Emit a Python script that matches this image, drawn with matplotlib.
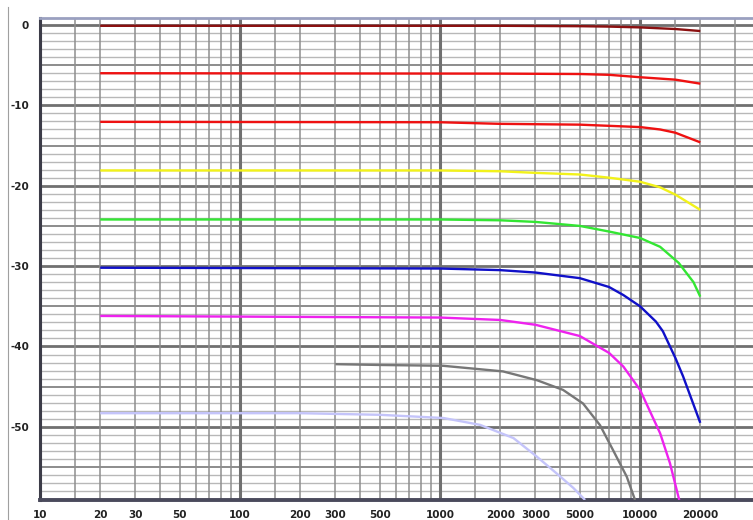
import matplotlib.pyplot as plt
from matplotlib.lines import Line2D

# frequency response readings (Hz, dB) for each attenuation step
f_0 = [20, 2000, 5000, 7000, 10000, 15000, 20000]
db_0 = [-0.1, -0.1, -0.15, -0.2, -0.3, -0.5, -0.75]

f_6 = [20, 2000, 5000, 7000, 10000, 15000, 20000]
db_6 = [-6.0, -6.05, -6.1, -6.2, -6.5, -6.8, -7.3]

f_12 = [20, 1000, 2000, 5000, 10000, 12600, 15000, 20000]
db_12 = [-12.05, -12.1, -12.3, -12.4, -12.7, -13.0, -13.4, -14.6]

f_18 = [20, 1000, 2000, 3000, 5000, 7000, 10000, 12600, 15000, 20000]
db_18 = [-18.1, -18.1, -18.2, -18.4, -18.6, -19.0, -19.5, -20.2, -21.1, -23.0]

f_24 = [20, 1000, 2000, 3000, 5000, 7000, 10000, 12600, 15600, 18500, 20000]
db_24 = [-24.2, -24.2, -24.3, -24.5, -25.0, -25.7, -26.5, -27.6, -29.6, -32.0, -33.8]

f_30 = [20, 1000, 2000, 3000, 5000, 7000, 8250, 10000, 12000, 13000, 15000, 16400, 20000]
db_30 = [-30.2, -30.3, -30.5, -30.8, -31.5, -32.6, -33.6, -35.0, -36.9, -38.1, -41.4, -43.7, -49.5]

f_36 = [20, 1000, 2000, 3000, 5000, 7000, 8250, 10000, 12600, 14100, 15700]
db_36 = [-36.2, -36.4, -36.7, -37.3, -38.7, -40.8, -42.5, -45.4, -50.8, -54.5, -59.1]

f_42 = [300, 500, 1035, 2065, 3055, 4120, 5190, 6310, 7330, 8580, 9440]
db_42 = [-42.2, -42.3, -42.4, -43.1, -44.2, -45.4, -47.1, -49.8, -52.9, -56.2, -59.1]

f_48 = [20, 200, 500, 1040, 1585, 2330, 3045, 3830, 4640, 5310]
db_48 = [-48.3, -48.3, -48.5, -48.9, -49.75, -51.4, -53.7, -55.8, -57.6, -59.1]

x_ticks = [10, 20, 30, 50, 100, 200, 300, 500, 1000, 2000, 3000, 5000, 10000, 20000]
y_ticks = [0, -10, -20, -30, -40, -50]

curves = [
    (f_0, db_0, "#8b1010"),
    (f_6, db_6, "#ee1111"),
    (f_12, db_12, "#ee1111"),
    (f_18, db_18, "#f2f21a"),
    (f_24, db_24, "#33e633"),
    (f_30, db_30, "#1010c8"),
    (f_36, db_36, "#ee22ee"),
    (f_42, db_42, "#777777"),
    (f_48, db_48, "#c4c4fa"),
]

fig = plt.figure(figsize=(7.53, 5.20), dpi=100)
ax = fig.add_axes([40 / 753, 20 / 520, 713 / 753, 482 / 520])
ax.set_xscale("log")
ax.set_xlim(10, 36700)
ax.set_ylim(-59.1, 0.87)

# grid: 1 dB light, 5 dB medium, 10 dB dark
for d in range(0, -60, -1):
    if d % 10 == 0:
        ax.axhline(d, color="#707070", lw=2.0, zorder=1)
    elif d % 5 == 0:
        ax.axhline(d, color="#8c8c8c", lw=1.4, zorder=1)
    else:
        ax.axhline(d, color="#b8b8b8", lw=1.0, zorder=1)

for dec in [10, 100, 1000, 10000]:
    for m in [1, 1.5, 2, 3, 4, 5, 6, 7, 8, 9]:
        f = dec * m
        if f > 36700:
            continue
        if m == 1:
            ax.axvline(f, color="#707070", lw=2.2, zorder=1)
        else:
            ax.axvline(f, color="#8e8e8e", lw=1.1, zorder=1)

for f, db, c in curves:
    ax.plot(f, db, color=c, lw=1.7, zorder=3, solid_capstyle="butt",
            solid_joinstyle="round")

ax.set_xticks(x_ticks)
ax.set_xticklabels([str(v) for v in x_ticks])
ax.set_xticks([], minor=True)
ax.set_yticks(y_ticks)
ax.set_yticklabels([str(v) for v in y_ticks])
ax.tick_params(length=0, labelsize=7.5, colors="#222222")
ax.tick_params(axis="x", pad=7)
ax.tick_params(axis="y", pad=8)
for lab in ax.get_xticklabels() + ax.get_yticklabels():
    lab.set_fontweight("bold")

ax.spines["right"].set_visible(False)
ax.spines["top"].set_color("#9aa0c0")
ax.spines["top"].set_linewidth(2.0)
ax.spines["left"].set_color("#3c3c48")
ax.spines["left"].set_linewidth(2.2)
ax.spines["bottom"].set_color("#4a4a5c")
ax.spines["bottom"].set_linewidth(2.8)

# outer window frame line on the left
fig.add_artist(Line2D([8 / 753, 8 / 753], [0, 513 / 520], color="#a0a0a0", lw=0.8))

fig.savefig("out.png", dpi=100)
